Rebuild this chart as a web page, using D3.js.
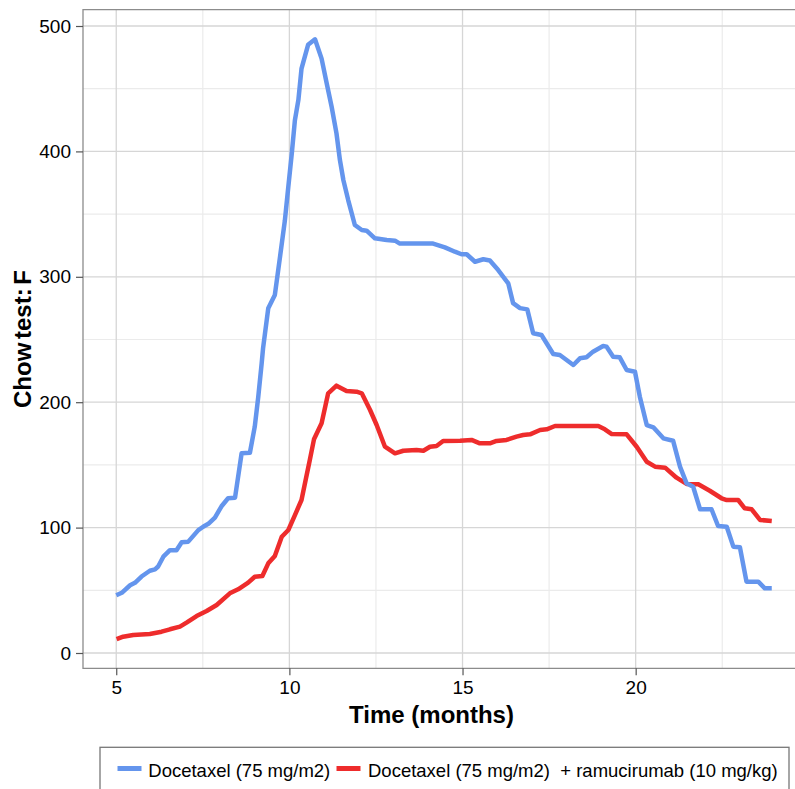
<!DOCTYPE html>
<html>
<head>
<meta charset="utf-8">
<script src="https://cdn.jsdelivr.net/npm/d3@7"></script>
<style>
  html, body { margin: 0; padding: 0; background: #fff; }
  svg { display: block; font-family: "Liberation Sans", Arial, sans-serif; }
</style>
</head>
<body>
<svg id="chart" width="795" height="789"></svg>
<script>
// ---- Data ----
const seriesNames = ["Docetaxel (75 mg/m2)", "Docetaxel (75 mg/m2)  + ramucirumab (10 mg/kg)"];
const seriesColors = ["#6495ED", "#EE2C2C"];

const blueX = [5.00,5.16,5.40,5.54,5.73,5.97,6.12,6.21,6.36,6.55,6.74,6.89,7.08,7.37,7.51,7.66,7.85,8.04,8.23,8.43,8.62,8.86,9.00,9.10,9.20,9.24,9.39,9.58,9.73,9.87,9.97,10.07,10.16,10.26,10.35,10.54,10.74,10.93,11.08,11.22,11.36,11.46,11.56,11.70,11.89,12.09,12.23,12.47,12.81,13.05,13.19,14.15,14.49,14.78,14.97,15.12,15.36,15.60,15.79,16.03,16.32,16.46,16.66,16.87,17.04,17.28,17.62,17.81,18.20,18.39,18.58,18.77,19.06,19.16,19.35,19.54,19.74,19.98,20.12,20.32,20.51,20.80,21.08,21.28,21.47,21.66,21.86,22.19,22.38,22.63,22.82,23.01,23.20,23.54,23.73,23.93];
const blueY = [46,48,54,56,61,65.6,66.7,69,76.8,82,82,88.3,88.8,98,100.7,103,108,117,123.4,123.8,159.2,159.7,180.5,204,231,243,274.9,285.5,316,345,372,398.5,425,441,466,485,489.4,474,454,435.6,414.4,393,377,361,341.3,337.3,336.8,330.7,329.3,328.8,326.5,326.5,323.5,320,318,318,312,314,313,305.4,294.8,279,275,274,255,253.6,238.4,237.6,229.7,235,235.8,240.3,244.8,244.3,236.3,235.8,225.7,224.3,204.4,181.8,180,171.2,169.3,148.6,135.3,132.6,114.6,114.6,101.3,100.7,84.8,84.3,56.9,56.9,51.6,51.6];

const redX = [5.01,5.20,5.49,5.97,6.31,6.55,6.84,7.03,7.32,7.61,7.90,8.28,8.52,8.81,9.00,9.22,9.39,9.58,9.78,9.97,10.16,10.35,10.48,10.59,10.71,10.93,11.12,11.36,11.65,11.94,12.09,12.33,12.52,12.76,13.05,13.29,13.67,13.87,14.06,14.25,14.44,14.93,15.26,15.50,15.79,15.98,16.27,16.56,16.75,16.95,17.24,17.43,17.67,18.92,19.11,19.31,19.74,20.03,20.32,20.56,20.85,21.18,21.47,21.81,22.14,22.48,22.63,22.96,23.15,23.35,23.59,23.93];
const redY = [11,13,14.4,15.2,17,18.9,21,24.2,29.5,33.5,38.3,47.6,50.8,56.1,60.8,61.4,71.5,77.4,92.7,98.1,110,122,139.3,153.9,170.4,183.2,207.1,213.2,208.9,208.4,207.1,193.8,181.8,164.5,159.2,161.3,161.9,161.3,164.5,165.1,169.1,169.3,169.9,167.2,167.2,169.1,169.9,172.5,173.8,174.4,177.8,178.4,181,181,178.4,174.6,174.4,164.5,152.5,148.6,147.8,139.8,134.8,134.5,129.4,123.4,122,122,115.4,114.6,106.1,105.3];

const xTicks = [5, 10, 15, 20];
const xMinor = [7.5, 12.5, 17.5, 22.5];
const yTicks = [0, 100, 200, 300, 400, 500];
const yMinor = [50, 150, 250, 350, 450];

const xTitle = "Time (months)";
const yTitle = "Chow test: F";

// ---- Layout ----
const svg = d3.select("#chart");
const plot = { left: 83, top: 9.7, right: 796, bottom: 668.3 };

const x = d3.scaleLinear().domain([4.04, 24.63]).range([plot.left, plot.right]);
const y = d3.scaleLinear().domain([-12.2, 513]).range([plot.bottom, plot.top]);

// grid
const g = svg.append("g");
g.selectAll(".ymin").data(yMinor).enter().append("line")
  .attr("x1", plot.left).attr("x2", plot.right)
  .attr("y1", d => y(d)).attr("y2", d => y(d))
  .attr("stroke", "#ebebeb").attr("stroke-width", 1.2);
g.selectAll(".xmin").data(xMinor).enter().append("line")
  .attr("y1", plot.top).attr("y2", plot.bottom)
  .attr("x1", d => x(d)).attr("x2", d => x(d))
  .attr("stroke", "#ebebeb").attr("stroke-width", 1.2);
g.selectAll(".ymaj").data(yTicks).enter().append("line")
  .attr("x1", plot.left).attr("x2", plot.right)
  .attr("y1", d => y(d)).attr("y2", d => y(d))
  .attr("stroke", "#d6d6d6").attr("stroke-width", 1.3);
g.selectAll(".xmaj").data(xTicks).enter().append("line")
  .attr("y1", plot.top).attr("y2", plot.bottom)
  .attr("x1", d => x(d)).attr("x2", d => x(d))
  .attr("stroke", "#d6d6d6").attr("stroke-width", 1.3);

// border (left, top, bottom)
svg.append("path")
  .attr("d", `M${plot.right},${plot.top}H${plot.left}V${plot.bottom}H${plot.right}`)
  .attr("fill", "none").attr("stroke", "#8c8c8c").attr("stroke-width", 1.3);

// axes
const xAxis = d3.axisBottom(x).tickValues(xTicks).tickSize(7).tickPadding(5).tickFormat(d3.format("d"));
const yAxis = d3.axisLeft(y).tickValues(yTicks).tickSize(7).tickPadding(5).tickFormat(d3.format("d"));

const gx = svg.append("g").attr("transform", `translate(0,${plot.bottom})`).call(xAxis);
const gy = svg.append("g").attr("transform", `translate(${plot.left},0)`).call(yAxis);
[gx, gy].forEach(a => {
  a.select(".domain").remove();
  a.selectAll(".tick line").attr("stroke", "#555").attr("stroke-width", 1.2);
  a.selectAll(".tick text").attr("fill", "#000").style("font-size", "19px")
    .style("font-family", "'Liberation Sans', Arial, sans-serif");
});

// axis titles
svg.append("text")
  .attr("x", (plot.left + plot.right) / 2 - 8).attr("y", 723)
  .attr("text-anchor", "middle").style("font-weight", "bold").style("font-size", "24px")
  .text(xTitle);
svg.append("text")
  .attr("transform", `translate(31,${(plot.top + plot.bottom) / 2}) rotate(-90)`)
  .attr("text-anchor", "middle").style("font-weight", "bold").style("font-size", "24px")
  .style("word-spacing", "-3px")
  .text(yTitle);

// lines
const line = d3.line().x(d => x(d[0])).y(d => y(d[1]));
const redData = redX.map((v, i) => [v, redY[i]]);
const blueData = blueX.map((v, i) => [v, blueY[i]]);
svg.append("path").datum(redData).attr("d", line)
  .attr("fill", "none").attr("stroke", seriesColors[1]).attr("stroke-width", 4.5)
  .attr("stroke-linejoin", "round").attr("stroke-linecap", "butt");
svg.append("path").datum(blueData).attr("d", line)
  .attr("fill", "none").attr("stroke", seriesColors[0]).attr("stroke-width", 4.5)
  .attr("stroke-linejoin", "round").attr("stroke-linecap", "butt");

// legend
svg.append("rect").attr("x", 100).attr("y", 747.3).attr("width", 689).attr("height", 60)
  .attr("fill", "#fff").attr("stroke", "#777").attr("stroke-width", 1.3);
const legItems = [
  { sx: 117.5, tx: 148.3, name: seriesNames[0], color: seriesColors[0] },
  { sx: 336.5, tx: 368, name: seriesNames[1], color: seriesColors[1] }
];
legItems.forEach(it => {
  svg.append("line").attr("x1", it.sx).attr("x2", it.sx + 24).attr("y1", 768.5).attr("y2", 768.5)
    .attr("stroke", it.color).attr("stroke-width", 5);
  svg.append("text").attr("x", it.tx).attr("y", 777).style("font-size", "18.5px")
    .style("white-space", "pre").attr("xml:space", "preserve").text(it.name);
});
</script>
</body>
</html>
